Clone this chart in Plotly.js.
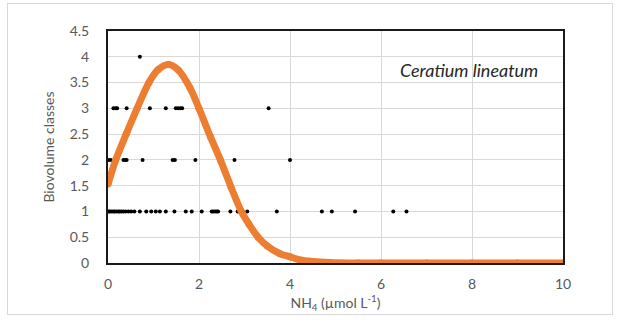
<!DOCTYPE html>
<html>
<head>
<meta charset="utf-8">
<script src="https://cdn.plot.ly/plotly-3.0.1.min.js"></script>
<style>
  html, body { margin: 0; padding: 0; background: #fff; }
  #wrap { position: relative; width: 620px; height: 322px; }
  #frame { position: absolute; left: 7px; top: 3px; width: 606px; height: 312px; border: 1px solid #d9d9d9; box-sizing: border-box; }
  #chart { position: absolute; left: 0; top: 0; width: 620px; height: 322px; }
</style>
</head>
<body>
<div id="wrap">
  <div id="frame"></div>
  <div id="chart"></div>
</div>
<script>
// Observed NH4 concentrations grouped by biovolume class
const class1NH4 = [0.01, 0.04, 0.08, 0.12, 0.15, 0.19, 0.23, 0.26, 0.30, 0.34, 0.39, 0.45, 0.51, 0.58,
                   0.70, 0.84, 0.95, 1.05, 1.14, 1.27, 1.46, 1.71, 1.84, 2.06, 2.28, 2.31, 2.35, 2.39,
                   2.42, 2.69, 2.85, 2.89, 3.06, 3.71, 4.70, 4.92, 5.43, 6.27, 6.56];
const class2NH4 = [0.01, 0.06, 0.34, 0.38, 0.41, 0.76, 1.42, 1.47, 1.92, 2.78, 4.0];
const class3NH4 = [0.12, 0.17, 0.20, 0.41, 0.92, 1.27, 1.49, 1.54, 1.59, 1.63, 1.97, 3.53];
const class4NH4 = [0.70];

// Fitted response curve
const fitNH4   = [0, 0.17, 0.4, 0.64, 0.9, 1.1, 1.33, 1.55, 1.8, 2.0, 2.25, 2.47, 2.7, 2.93,
                  3.1, 3.3, 3.5, 3.78, 4.0, 4.22, 4.5, 4.88, 5.5, 6, 7, 8, 9, 10];
const fitClass = [1.53, 2.0, 2.5, 3.0, 3.5, 3.75, 3.85, 3.74, 3.4, 3.0, 2.45, 2.0, 1.48, 1.0,
                  0.75, 0.5, 0.33, 0.18, 0.12, 0.06, 0.03, 0.01, 0, 0, 0, 0, 0, 0];

const yTicks = [0, 0.5, 1, 1.5, 2, 2.5, 3, 3.5, 4, 4.5];
const xTicks = [0, 2, 4, 6, 8, 10];
const speciesName = 'Ceratium lineatum';

const allX = [].concat(class1NH4, class2NH4, class3NH4, class4NH4);
const allY = [].concat(class1NH4.map(() => 1), class2NH4.map(() => 2),
                       class3NH4.map(() => 3), class4NH4.map(() => 4));

const font = 'Lato, "Open Sans", sans-serif';
const labelFont = { family: font, size: 14, color: '#595959' };

const traces = [
  {
    x: allX, y: allY, type: 'scatter', mode: 'markers',
    marker: { color: '#000', size: 4 },
    hoverinfo: 'x+y', showlegend: false
  },
  {
    x: fitNH4, y: fitClass, type: 'scatter', mode: 'lines+markers',
    line: { color: '#ED7D31', width: 7, shape: 'spline', smoothing: 0.8 },
    marker: { color: '#ED7D31', size: 7 },
    showlegend: false
  }
];

const layout = {
  width: 620, height: 322,
  margin: { l: 108, r: 57, t: 31, b: 59 },
  paper_bgcolor: 'rgba(0,0,0,0)',
  plot_bgcolor: '#fff',
  font: labelFont,
  xaxis: {
    range: [0, 10], tickvals: xTicks, ticktext: xTicks.map(String),
    showgrid: true, gridcolor: '#d9d9d9', gridwidth: 1,
    zeroline: false, showline: true, linecolor: '#1a1a1a', linewidth: 2, mirror: true,
    ticks: '', ticklabelstandoff: 7,
    tickfont: labelFont,
    title: { text: 'NH<sub>4</sub> (µmol L<sup>-1</sup>)', standoff: 6, font: labelFont }
  },
  yaxis: {
    range: [0, 4.5], tickvals: yTicks, ticktext: yTicks.map(String),
    showgrid: true, gridcolor: '#d9d9d9', gridwidth: 1,
    zeroline: false, showline: true, linecolor: '#1a1a1a', linewidth: 2, mirror: true,
    ticks: '', ticklabelstandoff: 14,
    tickfont: labelFont,
    title: { text: 'Biovolume classes', standoff: 12, font: labelFont }
  },
  annotations: [{
    text: '<i>' + speciesName + '</i>', x: 7.93, y: 3.75, xref: 'x', yref: 'y',
    showarrow: false, font: { family: font, size: 18, color: '#262626' }
  }]
};

Plotly.newPlot('chart', traces, layout, { displayModeBar: false, staticPlot: true });
</script>
</body>
</html>
